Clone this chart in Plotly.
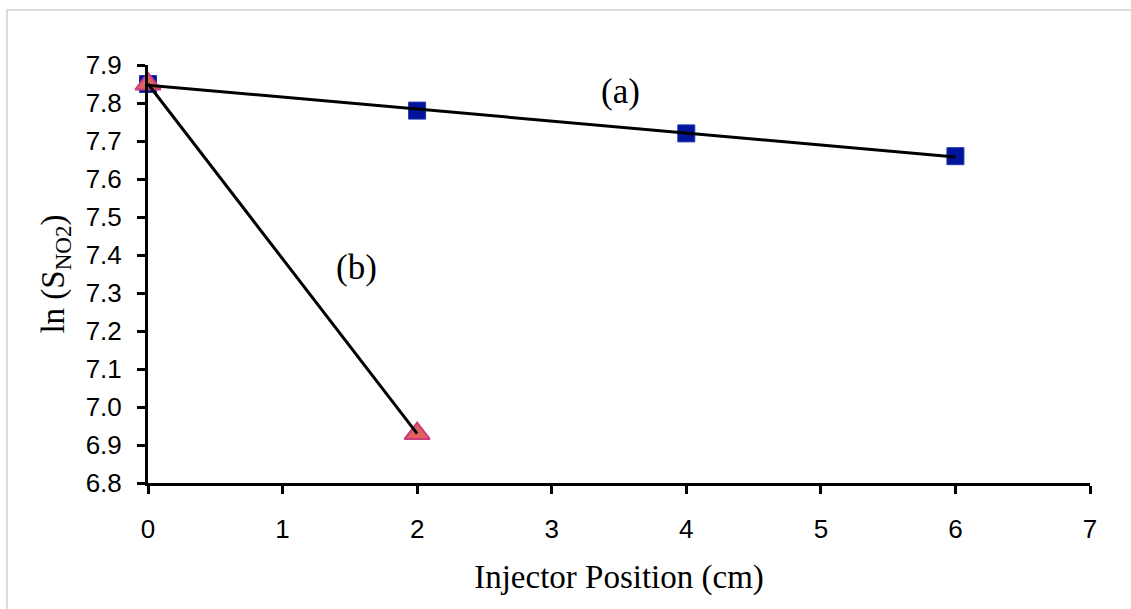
import numpy as np
import plotly.graph_objects as go

# Injector position (cm) and ln(S_NO2) for the two runs
pos_a = [0, 2, 4, 6]
ln_a = [7.85, 7.78, 7.72, 7.66]
pos_b = [0, 2]
ln_b = [7.85, 6.93]

x_ticks = [0, 1, 2, 3, 4, 5, 6, 7]
y_ticks = [6.8, 6.9, 7.0, 7.1, 7.2, 7.3, 7.4, 7.5, 7.6, 7.7, 7.8, 7.9]

W, H = 1131, 609
L, R, T, B = 148, 41, 65, 126
pw, ph = W - L - R, H - T - B


def linear_fit(xs, ys):
    k, c = np.polyfit(xs, ys, 1)
    xe = [min(xs), max(xs)]
    return xe, [k * v + c for v in xe]


fig = go.Figure()

fig.add_trace(go.Scatter(
    x=pos_a, y=ln_a, mode="markers", cliponaxis=False,
    marker=dict(symbol="square", size=17, color="#00159A",
                line=dict(color="#2233B0", width=1)),
    showlegend=False,
))
fig.add_trace(go.Scatter(
    x=pos_b, y=ln_b, mode="markers", cliponaxis=False,
    marker=dict(symbol="triangle-up", size=22, color="#E0625A",
                line=dict(color="#C93C7E", width=2)),
    showlegend=False,
))

for xs, ys in ((pos_a, ln_a), (pos_b, ln_b)):
    fx, fy = linear_fit(xs, ys)
    fig.add_trace(go.Scatter(
        x=fx, y=fy, mode="lines", cliponaxis=False,
        line=dict(color="black", width=3), showlegend=False,
    ))

fig.add_annotation(x=3.51, y=7.829, text="(a)", showarrow=False,
                   font=dict(family="Liberation Serif", size=35, color="black"))
fig.add_annotation(x=1.55, y=7.366, text="(b)", showarrow=False,
                   font=dict(family="Liberation Serif", size=35, color="black"))

# thin grey frame around the chart area
fig.add_shape(type="rect", xref="paper", yref="paper",
              x0=(7 - L) / pw, x1=(W + 5 - L) / pw,
              y0=(ph + T - (H + 5)) / ph, y1=(ph + T - 10) / ph,
              line=dict(color="#D0D0D0", width=1.5), layer="below")

tick_font = dict(family="Liberation Sans", size=26, color="black")
title_font = dict(family="Liberation Serif", size=33, color="black")

fig.update_layout(
    width=W, height=H,
    margin=dict(l=L, r=R, t=T, b=B, autoexpand=False),
    paper_bgcolor="white", plot_bgcolor="white",
    xaxis=dict(
        range=[0, 7], tickvals=x_ticks, ticktext=[str(v) for v in x_ticks],
        showgrid=False, zeroline=False, showline=True, linecolor="black",
        linewidth=3, ticks="outside", ticklen=8, tickwidth=2.5,
        tickcolor="black", tickfont=tick_font, ticklabelstandoff=13,
        title=dict(text="Injector Position (cm)", font=title_font, standoff=22),
    ),
    yaxis=dict(
        range=[6.8, 7.9], tickvals=y_ticks,
        ticktext=[f"{v:.1f}" for v in y_ticks],
        showgrid=False, zeroline=False, showline=True, linecolor="black",
        linewidth=3, ticks="outside", ticklen=8, tickwidth=2.5,
        tickcolor="black", tickfont=tick_font, ticklabelstandoff=10,
        title=dict(text="ln (S<sub>NO2</sub>)", font=title_font, standoff=12),
    ),
)

fig.write_html("out.html")
